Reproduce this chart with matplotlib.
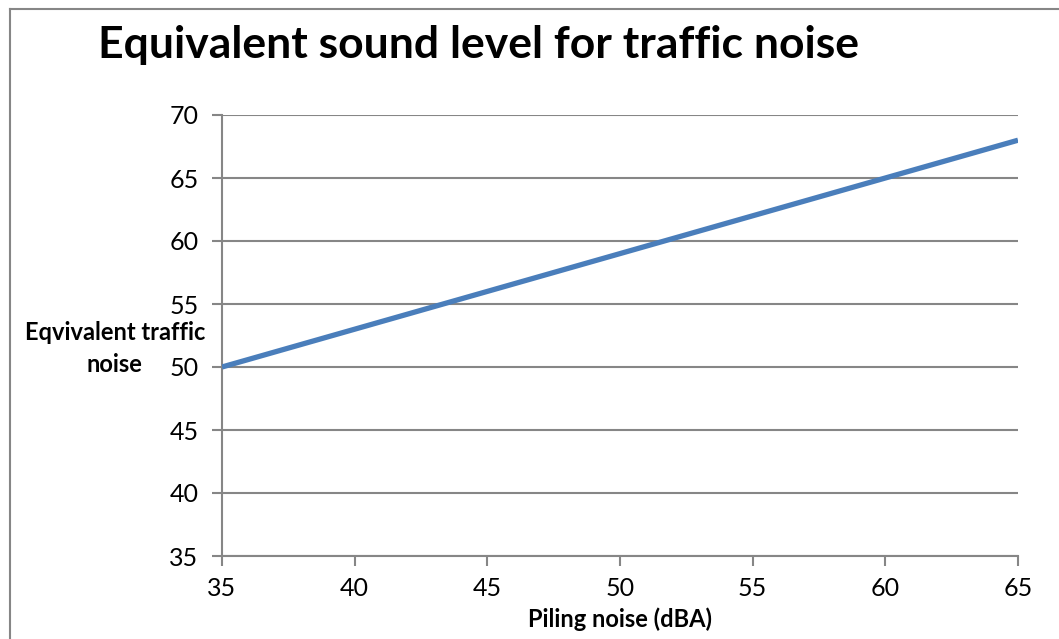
import matplotlib
matplotlib.use("Agg")
import matplotlib.pyplot as plt
from matplotlib.lines import Line2D

# Data
piling_noise = [35, 40, 45, 50, 55, 60, 65]
traffic_noise = [50, 53, 56, 59, 62, 65, 68]
x_ticks = [35, 40, 45, 50, 55, 60, 65]
y_ticks = [35, 40, 45, 50, 55, 60, 65, 70]

plt.rcParams['font.family'] = ['Lato', 'DejaVu Sans']

fig = plt.figure(figsize=(10.59, 6.39), dpi=100)
ax = fig.add_axes([222 / 1059, 1 - 556 / 639, (1018 - 222) / 1059, (556 - 115) / 639])

grey = '#868686'
ax.plot(piling_noise, traffic_noise, color='#4a7ebb', lw=3.8, solid_capstyle='butt', zorder=3)

ax.set_xlim(35, 65)
ax.set_ylim(35, 70)
ax.set_xticks(x_ticks)
ax.set_yticks(y_ticks)
ax.tick_params(axis='both', direction='out', length=7, width=1.5, color=grey,
               labelsize=18, labelcolor='black')
ax.tick_params(axis='x', pad=8)
ax.tick_params(axis='y', pad=10)
ax.yaxis.grid(True, color=grey, lw=1.5)
ax.set_axisbelow(True)
for side in ['top', 'right']:
    ax.spines[side].set_visible(False)
for side in ['left', 'bottom']:
    ax.spines[side].set_color(grey)
    ax.spines[side].set_linewidth(1.5)

fig.text(478 / 1059, 1 - 45 / 639, 'Equivalent sound level for traffic noise',
         ha='center', va='center', fontsize=32, fontweight='bold')

# Y-axis title, two lines centred on each other, block right-aligned
ylab1 = fig.text(205 / 1059, 1 - 333 / 639, 'Eqvivalent traffic', ha='right', va='center',
                 fontsize=17, fontweight='bold')
fig.canvas.draw()
bb = ylab1.get_window_extent()
fig.text((bb.x0 + bb.x1) / 2 / 1059, 1 - 364 / 639, 'noise', ha='center', va='center',
         fontsize=17, fontweight='bold')

fig.text(620 / 1059, 1 - 619 / 639, 'Piling noise (dBA)', ha='center', va='center',
         fontsize=17, fontweight='bold')

# Chart area frame (top and left edges)
fig.add_artist(Line2D([9.5 / 1059, 1.0], [1 - 8.5 / 639] * 2, transform=fig.transFigure,
                      color=grey, lw=1.5))
fig.add_artist(Line2D([9.5 / 1059] * 2, [0.0, 1 - 8.5 / 639], transform=fig.transFigure,
                      color=grey, lw=1.5))

fig.savefig('out.png', dpi=100)
